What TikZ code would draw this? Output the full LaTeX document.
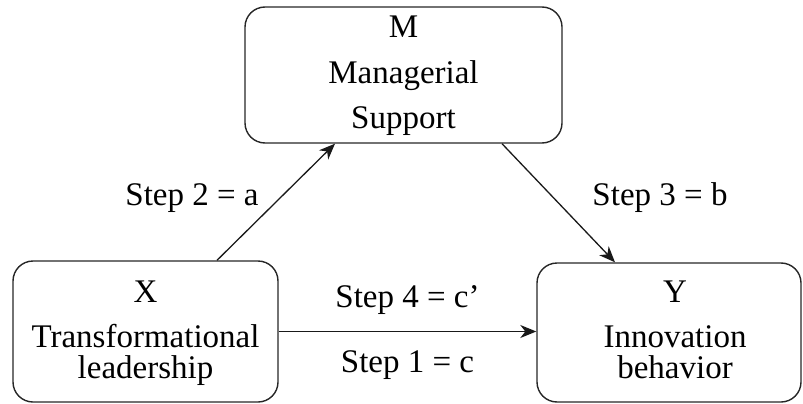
\documentclass[tikz,border=0pt]{standalone}
\usepackage{fontspec}
\setmainfont{Liberation Serif}
\usetikzlibrary{arrows.meta}
\begin{document}
\begin{tikzpicture}[x=1pt,y=-1pt,
  box/.style={draw=black!85,line width=1.4pt,rounded corners=20pt,rectangle,inner sep=0pt},
  txt/.style={anchor=base,inner sep=0pt,font=\fontsize{33}{39}\selectfont},
  arr/.style={draw=black!90,line width=1.3pt,-{Stealth[length=16pt,width=13pt,inset=5pt]}}]
\useasboundingbox (0,0) rectangle (803,404);
% boxes
\node[box,minimum width=317pt,minimum height=136pt] (M) at (403.5,75) {};
\node[box,minimum width=265pt,minimum height=141pt] (X) at (145.5,331.5) {};
\node[box,minimum width=264pt,minimum height=139pt] (Y) at (669,332.5) {};
% box texts
\node[txt] (mt1) at (403.5,38) {M};
\node[txt] (mt2) at (403.5,83) {Managerial};
\node[txt] (mt3) at (403.5,128) {Support};
\node[txt] (xt1) at (145.5,302) {X};
\node[txt] (xt2) at (145.5,347) {Transformational};
\node[txt] (xt3) at (145.5,378) {leadership};
\node[txt] (yt1) at (675,302) {Y};
\node[txt] (yt2) at (675,347) {Innovation};
\node[txt] (yt3) at (675,378) {behavior};
% connectors
\draw[arr] ([xshift=71.5pt]X.north) -- ([xshift=-68.5pt]M.south);
\draw[arr] ([xshift=98.5pt]M.south) -- ([xshift=-54pt]Y.north);
\draw[arr] (X.east) -- (X.east -| Y.west);
% labels
\node[txt] (l2) at (192,205) {Step 2 = a};
\node[txt] (l3) at (660,205) {Step 3 = b};
\node[txt] (l4) at (407.5,307) {Step 4 = c’};
\node[txt] (l1) at (407.5,372) {Step 1 = c};
\end{tikzpicture}
\end{document}
